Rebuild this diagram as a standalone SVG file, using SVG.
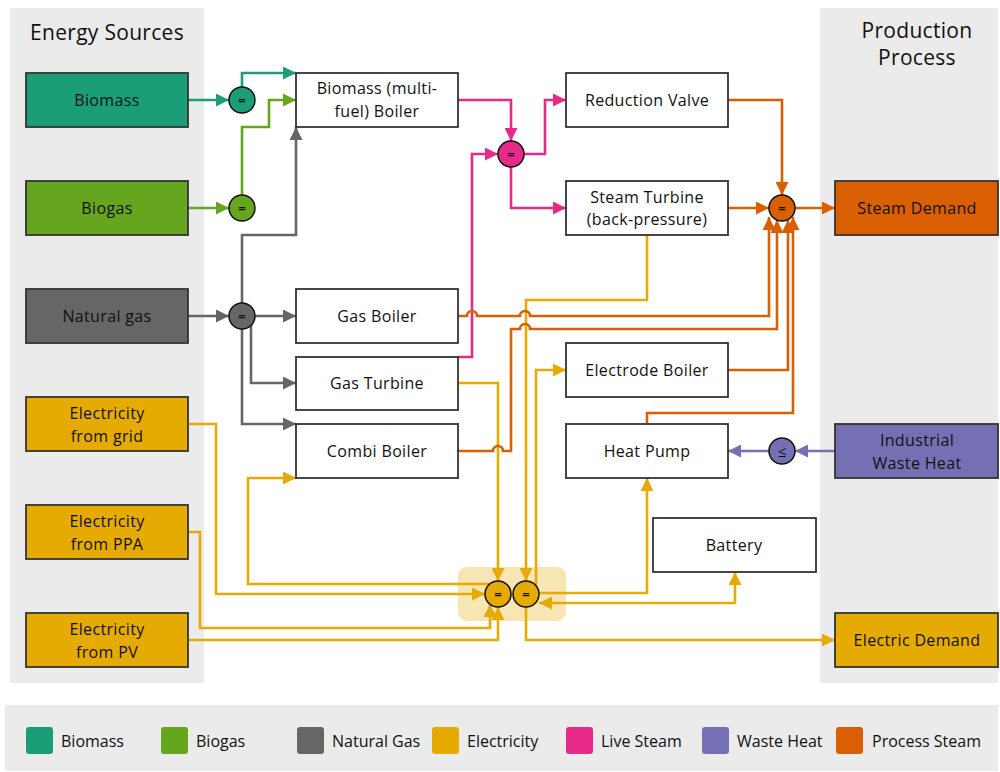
<svg xmlns="http://www.w3.org/2000/svg" width="1000" height="772" viewBox="0 0 1000 772">
  <style>
    text { font-family: "Open Sans", "Noto Sans", sans-serif; fill: #111; }
    .lbl { font-size: 16px; text-anchor: middle; letter-spacing: 0.35px; }
    .title { font-size: 21px; text-anchor: middle; letter-spacing: 0.3px; }
    .leg { font-size: 16px; }
    .box { fill: #ffffff; stroke: #333; stroke-width: 1.8; }
    .src { stroke: #333; stroke-width: 1.8; }
    .jn { stroke: #111; stroke-width: 1.5; }
    .sym { font-size: 13px; text-anchor: middle; font-weight: bold; }
    .c { fill: none; stroke-width: 2.6; stroke-linejoin: miter; }
    .teal { stroke: #1b9e77; } .green { stroke: #66a61e; } .grey { stroke: #666666; }
    .pink { stroke: #e7298a; } .orange { stroke: #d95f02; } .yellow { stroke: #e6ab02; }
    .purple { stroke: #7570b3; }
  </style>
  <defs>
    <marker id="a-teal" viewBox="0 0 12 12" refX="12" refY="6" markerWidth="14" markerHeight="13" markerUnits="userSpaceOnUse" orient="auto-start-reverse"><path d="M0,0 L12,6 L0,12 z" fill="#1b9e77"/></marker>
    <marker id="a-green" viewBox="0 0 12 12" refX="12" refY="6" markerWidth="14" markerHeight="13" markerUnits="userSpaceOnUse" orient="auto-start-reverse"><path d="M0,0 L12,6 L0,12 z" fill="#66a61e"/></marker>
    <marker id="a-grey" viewBox="0 0 12 12" refX="12" refY="6" markerWidth="14" markerHeight="13" markerUnits="userSpaceOnUse" orient="auto-start-reverse"><path d="M0,0 L12,6 L0,12 z" fill="#666666"/></marker>
    <marker id="a-pink" viewBox="0 0 12 12" refX="12" refY="6" markerWidth="14" markerHeight="13" markerUnits="userSpaceOnUse" orient="auto-start-reverse"><path d="M0,0 L12,6 L0,12 z" fill="#e7298a"/></marker>
    <marker id="a-orange" viewBox="0 0 12 12" refX="12" refY="6" markerWidth="14" markerHeight="13" markerUnits="userSpaceOnUse" orient="auto-start-reverse"><path d="M0,0 L12,6 L0,12 z" fill="#d95f02"/></marker>
    <marker id="a-yellow" viewBox="0 0 12 12" refX="12" refY="6" markerWidth="14" markerHeight="13" markerUnits="userSpaceOnUse" orient="auto-start-reverse"><path d="M0,0 L12,6 L0,12 z" fill="#e6ab02"/></marker>
    <marker id="a-purple" viewBox="0 0 12 12" refX="12" refY="6" markerWidth="14" markerHeight="13" markerUnits="userSpaceOnUse" orient="auto-start-reverse"><path d="M0,0 L12,6 L0,12 z" fill="#7570b3"/></marker>
  </defs>

  <rect width="1000" height="772" fill="#ffffff"/>

  <!-- side panels -->
  <g id="panels">
    <rect x="10" y="8" width="194" height="675" fill="#ebebeb"/>
    <rect x="820" y="8" width="178" height="675" fill="#ebebeb"/>
    <text class="title" x="107" y="40">Energy Sources</text>
    <text class="title" x="917" y="38">Production</text>
    <text class="title" x="917" y="65">Process</text>
  </g>

  <!-- electricity hub backdrop -->
  <rect id="hub-bg" x="458" y="567" width="108" height="54" rx="9" fill="#f7e6b4"/>

  <!-- connectors -->
  <g id="connectors">
    <!-- biomass -->
    <path class="c teal" d="M188,100 H229" marker-end="url(#a-teal)"/>
    <path class="c teal" d="M242,100 V73 H296" marker-end="url(#a-teal)"/>
    <!-- biogas -->
    <path class="c green" d="M188,208 H229" marker-end="url(#a-green)"/>
    <path class="c green" d="M242,208 V127 H269 V100 H296" marker-end="url(#a-green)"/>
    <!-- natural gas -->
    <path class="c grey" d="M188,316 H229" marker-end="url(#a-grey)"/>
    <path class="c grey" d="M255,316 H296" marker-end="url(#a-grey)"/>
    <path class="c grey" d="M242,305 V235 H296 V127" marker-end="url(#a-grey)"/>
    <path class="c grey" d="M251,316 V383 H296" marker-end="url(#a-grey)"/>
    <path class="c grey" d="M242,316 V424 H296" marker-end="url(#a-grey)"/>
    <!-- live steam -->
    <path class="c pink" d="M458,100 H511 V141" marker-end="url(#a-pink)"/>
    <path class="c pink" d="M458,357 H472 V154 H498" marker-end="url(#a-pink)"/>
    <path class="c pink" d="M511,154 H545 V100 H566" marker-end="url(#a-pink)"/>
    <path class="c pink" d="M511,154 V208 H566" marker-end="url(#a-pink)"/>
    <!-- electricity -->
    <path class="c yellow" d="M647,235 V300 H526 V581" marker-end="url(#a-yellow)"/>
    <path class="c yellow" d="M458,383 H498 V581" marker-end="url(#a-yellow)"/>
    <path class="c yellow" d="M536,590 V370 H566" marker-end="url(#a-yellow)"/>
    <path class="c yellow" d="M490,584 H248 V478 H296" marker-end="url(#a-yellow)"/>
    <path class="c yellow" d="M188,424 H216 V594 H485" marker-end="url(#a-yellow)"/>
    <path class="c yellow" d="M188,532 H200 V628 H490 V604" marker-end="url(#a-yellow)"/>
    <path class="c yellow" d="M188,640 H498 V607" marker-end="url(#a-yellow)"/>
    <path class="c yellow" d="M530,593 H647 V478" marker-end="url(#a-yellow)"/>
    <path class="c yellow" d="M539,603 H735 V572" marker-start="url(#a-yellow)" marker-end="url(#a-yellow)"/>
    <path class="c yellow" d="M526,594 V640 H835" marker-end="url(#a-yellow)"/>
    <!-- process steam -->
    <path class="c orange" d="M728,100 H782 V195" marker-end="url(#a-orange)"/>
    <path class="c orange" d="M728,208 H769" marker-end="url(#a-orange)"/>
    <path class="c orange" d="M795,208 H835" marker-end="url(#a-orange)"/>
    <path class="c orange" d="M458,316 H467 A5,5 0 0 1 477,316 H520 A5,5 0 0 1 530,316 H769 V217" marker-end="url(#a-orange)"/>
    <path class="c orange" d="M458,451 H493 A5,5 0 0 1 503,451 H511 V329 H520 A5,5 0 0 1 530,329 H777 V220" marker-end="url(#a-orange)"/>
    <path class="c orange" d="M728,370 H788 V220" marker-end="url(#a-orange)"/>
    <path class="c orange" d="M647,423 V413 H793 V217" marker-end="url(#a-orange)"/>
    <!-- waste heat -->
    <path class="c purple" d="M835,451 H795" marker-end="url(#a-purple)"/>
    <path class="c purple" d="M769,451 H728" marker-end="url(#a-purple)"/>
  </g>

  <!-- energy sources -->
  <g id="src-biomass"><rect class="src" x="26" y="73" width="162" height="54" fill="#1b9e77"/><text class="lbl" x="107" y="106">Biomass</text></g>
  <g id="src-biogas"><rect class="src" x="26" y="181" width="162" height="54" fill="#66a61e"/><text class="lbl" x="107" y="214">Biogas</text></g>
  <g id="src-natgas"><rect class="src" x="26" y="289" width="162" height="54" fill="#666666"/><text class="lbl" x="107" y="322">Natural gas</text></g>
  <g id="src-grid"><rect class="src" x="26" y="397" width="162" height="54" fill="#e6ab02"/><text class="lbl" x="107" y="419">Electricity</text><text class="lbl" x="107" y="442">from grid</text></g>
  <g id="src-ppa"><rect class="src" x="26" y="505" width="162" height="54" fill="#e6ab02"/><text class="lbl" x="107" y="527">Electricity</text><text class="lbl" x="107" y="550">from PPA</text></g>
  <g id="src-pv"><rect class="src" x="26" y="613" width="162" height="54" fill="#e6ab02"/><text class="lbl" x="107" y="635">Electricity</text><text class="lbl" x="107" y="658">from PV</text></g>

  <!-- conversion units -->
  <g id="biomass-boiler"><rect class="box" x="296" y="73" width="162" height="54"/><text class="lbl" x="377" y="94">Biomass (multi-</text><text class="lbl" x="377" y="117">fuel) Boiler</text></g>
  <g id="gas-boiler"><rect class="box" x="296" y="289" width="162" height="54"/><text class="lbl" x="377" y="322">Gas Boiler</text></g>
  <g id="gas-turbine"><rect class="box" x="296" y="357" width="162" height="53"/><text class="lbl" x="377" y="389">Gas Turbine</text></g>
  <g id="combi-boiler"><rect class="box" x="296" y="424" width="162" height="54"/><text class="lbl" x="377" y="457">Combi Boiler</text></g>
  <g id="reduction-valve"><rect class="box" x="566" y="73" width="162" height="54"/><text class="lbl" x="647" y="106">Reduction Valve</text></g>
  <g id="steam-turbine"><rect class="box" x="566" y="181" width="162" height="54"/><text class="lbl" x="647" y="203">Steam Turbine</text><text class="lbl" x="647" y="225">(back-pressure)</text></g>
  <g id="electrode-boiler"><rect class="box" x="566" y="343" width="162" height="54"/><text class="lbl" x="647" y="376">Electrode Boiler</text></g>
  <g id="heat-pump"><rect class="box" x="566" y="424" width="162" height="54"/><text class="lbl" x="647" y="457">Heat Pump</text></g>
  <g id="battery"><rect class="box" x="653" y="518" width="163" height="54"/><text class="lbl" x="734" y="551">Battery</text></g>

  <!-- production process -->
  <g id="steam-demand"><rect class="src" x="835" y="181" width="163" height="54" fill="#d95f02"/><text class="lbl" x="917" y="214">Steam Demand</text></g>
  <g id="waste-heat"><rect class="src" x="835" y="424" width="163" height="54" fill="#7570b3"/><text class="lbl" x="917" y="446">Industrial</text><text class="lbl" x="917" y="469">Waste Heat</text></g>
  <g id="electric-demand"><rect class="src" x="835" y="613" width="163" height="54" fill="#e6ab02"/><text class="lbl" x="917" y="646">Electric Demand</text></g>

  <!-- balance junctions -->
  <g id="j-biomass"><circle class="jn" cx="242" cy="100" r="13" fill="#1b9e77"/><text class="sym" x="242" y="104.5">=</text></g>
  <g id="j-biogas"><circle class="jn" cx="242" cy="208" r="13" fill="#66a61e"/><text class="sym" x="242" y="212.5">=</text></g>
  <g id="j-natgas"><circle class="jn" cx="242" cy="316" r="13" fill="#666666"/><text class="sym" x="242" y="320.5">=</text></g>
  <g id="j-livesteam"><circle class="jn" cx="511" cy="154" r="13" fill="#e7298a"/><text class="sym" x="511" y="158.5">=</text></g>
  <g id="j-procsteam"><circle class="jn" cx="782" cy="208" r="13" fill="#d95f02"/><text class="sym" x="782" y="212.5">=</text></g>
  <g id="j-wasteheat"><circle class="jn" cx="782" cy="451" r="13" fill="#7570b3"/><text class="sym" x="782" y="456.5" style="font-weight:normal;font-size:15px">≤</text></g>
  <g id="j-elec-in"><circle class="jn" cx="498" cy="594" r="13" fill="#e6ab02"/><text class="sym" x="498" y="598.5">=</text></g>
  <g id="j-elec-out"><circle class="jn" cx="526" cy="594" r="13" fill="#e6ab02"/><text class="sym" x="526" y="598.5">=</text></g>

  <!-- legend -->
  <g id="legend">
    <rect x="5" y="705" width="993" height="66" fill="#ebebeb"/>
    <rect x="26" y="727" width="27" height="27" rx="3" fill="#1b9e77"/><text class="leg" x="61" y="747">Biomass</text>
    <rect x="161" y="727" width="27" height="27" rx="3" fill="#66a61e"/><text class="leg" x="196" y="747">Biogas</text>
    <rect x="297" y="727" width="27" height="27" rx="3" fill="#666666"/><text class="leg" x="332" y="747">Natural Gas</text>
    <rect x="432" y="727" width="27" height="27" rx="3" fill="#e6ab02"/><text class="leg" x="467" y="747">Electricity</text>
    <rect x="566" y="727" width="27" height="27" rx="3" fill="#e7298a"/><text class="leg" x="601" y="747">Live Steam</text>
    <rect x="702" y="727" width="27" height="27" rx="3" fill="#7570b3"/><text class="leg" x="737" y="747">Waste Heat</text>
    <rect x="836" y="727" width="27" height="27" rx="3" fill="#d95f02"/><text class="leg" x="872" y="747">Process Steam</text>
  </g>
</svg>
